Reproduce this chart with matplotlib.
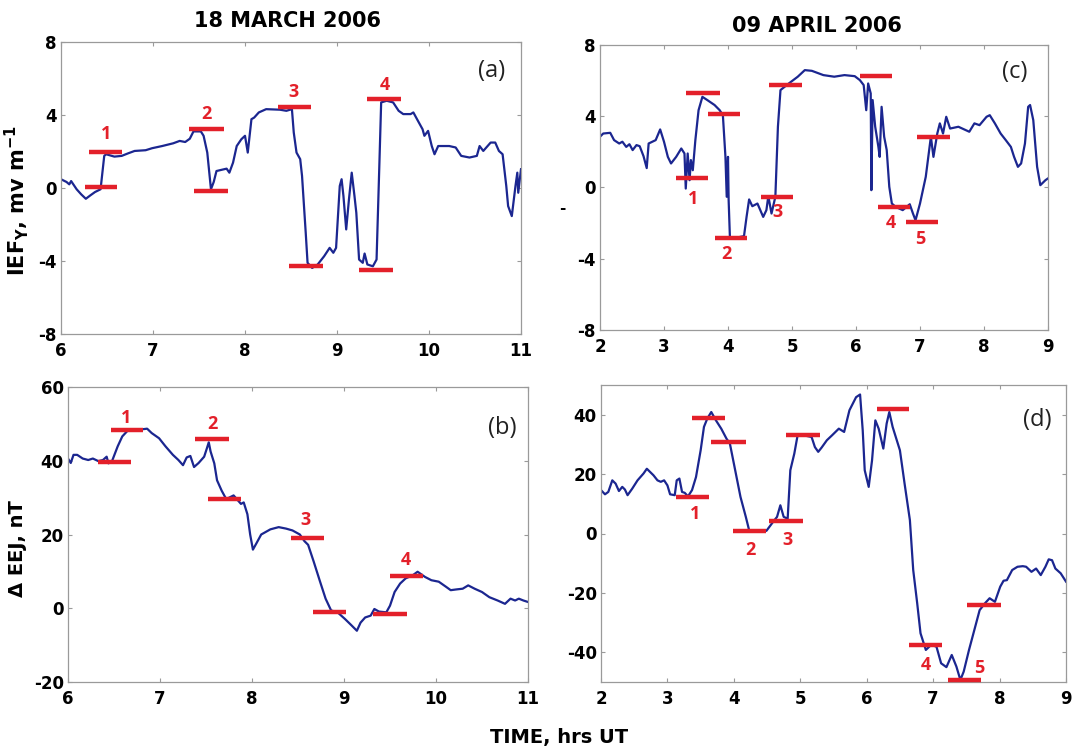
import matplotlib
matplotlib.use("Agg")
import matplotlib.pyplot as plt

plt.rcParams["font.family"] = "DejaVu Sans"
plt.rcParams["axes.unicode_minus"] = False
plt.rcParams["mathtext.fontset"] = "dejavusans"

# ---- 18 March 2006, IEF_Y (mV/m) ----
t_a = [6.0, 6.06, 6.09, 6.11, 6.17, 6.22, 6.27, 6.32, 6.37, 6.43,
       6.47, 6.49, 6.58, 6.66, 6.73, 6.8, 6.92, 6.99, 7.1, 7.22,
       7.29, 7.35, 7.4, 7.44, 7.52, 7.55, 7.59, 7.63, 7.66, 7.69,
       7.74, 7.8, 7.83, 7.87, 7.91, 7.96, 8.0, 8.03, 8.07, 8.1,
       8.15, 8.23, 8.38, 8.45, 8.51, 8.53, 8.56, 8.6, 8.62, 8.66,
       8.68, 8.73, 8.79, 8.86, 8.92, 8.96, 8.99, 9.03, 9.05, 9.07,
       9.1, 9.13, 9.16, 9.19, 9.21, 9.24, 9.28, 9.3, 9.33, 9.39,
       9.43, 9.46, 9.48, 9.54, 9.61, 9.67, 9.72, 9.8, 9.83, 9.87,
       9.93, 9.95, 9.99, 10.03, 10.06, 10.1, 10.22, 10.29, 10.35, 10.44,
       10.52, 10.55, 10.59, 10.67, 10.72, 10.76, 10.8, 10.84, 10.86, 10.9,
       10.94, 10.96, 10.97, 11.0]
v_a = [0.48, 0.33, 0.2, 0.38, -0.07, -0.35, -0.59, -0.4, -0.22, -0.07,
       1.76, 1.85, 1.72, 1.76, 1.9, 2.03, 2.07, 2.18, 2.3, 2.45,
       2.58, 2.52, 2.7, 3.1, 3.1, 2.86, 1.94, -0.07, 0.33, 0.93,
       0.99, 1.06, 0.84, 1.39, 2.3, 2.67, 2.86, 1.94, 3.77, 3.86,
       4.14, 4.32, 4.29, 4.23, 4.32, 3.04, 1.94, 1.58, 0.66, -2.45,
       -4.1, -4.38, -4.19, -3.74, -3.28, -3.55, -3.28, 0.11, 0.48, -0.44,
       -2.27, -0.62, 0.84, -0.44, -1.36, -3.92, -4.1, -3.59, -4.19, -4.29,
       -3.92, 1.2, 4.69, 4.78, 4.69, 4.23, 4.05, 4.05, 4.14, 3.77,
       3.22, 2.86, 3.13, 2.3, 1.85, 2.3, 2.3, 2.22, 1.76, 1.67,
       1.76, 2.3, 2.03, 2.49, 2.49, 2.03, 1.85, 0.11, -0.99, -1.54,
       0.11, 0.84, -0.26, 1.03]

# ---- 18 March 2006, delta EEJ (nT) ----
t_b = [6.0, 6.03, 6.06, 6.1, 6.16, 6.22, 6.27, 6.33, 6.38, 6.42,
       6.44, 6.48, 6.54, 6.59, 6.65, 6.74, 6.83, 6.86, 6.91, 6.99,
       7.06, 7.14, 7.2, 7.25, 7.29, 7.33, 7.37, 7.42, 7.48, 7.51,
       7.53, 7.55, 7.59, 7.62, 7.67, 7.72, 7.8, 7.88, 7.91, 7.95,
       7.98, 8.01, 8.05, 8.1, 8.2, 8.29, 8.37, 8.44, 8.52, 8.57,
       8.61, 8.67, 8.74, 8.8, 8.86, 8.93, 9.01, 9.08, 9.14, 9.18,
       9.23, 9.29, 9.33, 9.38, 9.46, 9.5, 9.55, 9.61, 9.67, 9.75,
       9.8, 9.88, 9.95, 10.03, 10.11, 10.16, 10.22, 10.29, 10.35, 10.42,
       10.5, 10.58, 10.67, 10.75, 10.81, 10.86, 10.9, 10.95, 11.0]
v_b = [40.6, 39.4, 41.6, 41.6, 40.6, 40.2, 40.6, 39.9, 40.2, 41.1,
       39.3, 40.0, 43.9, 46.6, 48.2, 48.4, 48.6, 48.7, 47.5, 46.1,
       43.9, 41.6, 40.2, 38.8, 40.9, 41.3, 38.3, 39.4, 41.1, 43.4,
       45.0, 42.5, 39.3, 34.7, 31.9, 29.6, 30.6, 28.3, 28.7, 25.5,
       20.0, 15.9, 17.7, 20.0, 21.4, 22.0, 21.6, 21.1, 20.0, 18.2,
       17.2, 12.7, 7.2, 2.6, -0.6, -1.1, -2.9, -4.6, -6.1, -3.9,
       -2.5, -2.0, -0.2, -0.9, -1.1, 0.7, 4.4, 6.7, 8.1, 9.0,
       9.9, 8.5, 7.6, 7.2, 5.8, 4.9, 5.1, 5.3, 6.2, 5.3,
       4.4, 3.0, 2.1, 1.2, 2.6, 2.1, 2.6, 2.1, 1.7]

# ---- 09 April 2006, IEF_Y (mV/m) ----
t_c = [2.0, 2.05, 2.16, 2.22, 2.3, 2.35, 2.41, 2.46, 2.51, 2.57,
       2.62, 2.68, 2.73, 2.76, 2.87, 2.94, 3.0, 3.06, 3.11, 3.19,
       3.27, 3.32, 3.34, 3.37, 3.4, 3.42, 3.45, 3.49, 3.54, 3.6,
       3.68, 3.79, 3.87, 3.92, 3.96, 3.98, 4.0, 4.01, 4.03, 4.14,
       4.25, 4.29, 4.33, 4.38, 4.46, 4.55, 4.6, 4.63, 4.68, 4.74,
       4.78, 4.82, 4.95, 5.09, 5.2, 5.31, 5.49, 5.66, 5.82, 5.98,
       6.06, 6.12, 6.16, 6.19, 6.23, 6.24, 6.26, 6.3, 6.35, 6.37,
       6.4, 6.44, 6.48, 6.52, 6.56, 6.62, 6.73, 6.84, 6.89, 6.93,
       7.0, 7.09, 7.17, 7.21, 7.27, 7.31, 7.36, 7.41, 7.47, 7.6,
       7.77, 7.85, 7.93, 8.04, 8.09, 8.17, 8.26, 8.34, 8.42, 8.47,
       8.53, 8.58, 8.64, 8.69, 8.72, 8.77, 8.83, 8.88, 8.96, 9.0]
v_c = [2.85, 3.03, 3.07, 2.66, 2.47, 2.57, 2.28, 2.43, 2.1, 2.38,
       2.32, 1.76, 1.09, 2.47, 2.66, 3.26, 2.57, 1.72, 1.35, 1.72,
       2.19, 1.91, -0.06, 1.91, 0.41, 1.54, 0.97, 2.66, 4.34, 5.09,
       4.9, 4.63, 4.34, 4.06, 1.72, -0.52, 1.72, -0.71, -2.81, -2.81,
       -2.73, -1.65, -0.67, -1.05, -0.9, -1.65, -1.27, -0.49, -1.46, -0.52,
       3.41, 5.47, 5.84, 6.22, 6.59, 6.55, 6.31, 6.22, 6.31, 6.25,
       6.03, 5.75, 4.34, 5.84, 5.28, -0.15, 4.91, 3.41, 2.28, 1.72,
       4.53, 2.85, 2.1, 0.04, -0.9, -1.09, -1.27, -0.94, -1.46, -1.84,
       -0.9, 0.6, 2.85, 1.72, 3.03, 3.6, 3.03, 3.97, 3.31, 3.41,
       3.13, 3.6, 3.5, 3.97, 4.06, 3.6, 3.03, 2.66, 2.28, 1.72,
       1.16, 1.35, 2.47, 4.53, 4.63, 3.78, 1.16, 0.13, 0.41, 0.51]

# ---- 09 April 2006, delta EEJ (nT) ----
t_d = [2.0, 2.06, 2.11, 2.17, 2.22, 2.27, 2.32, 2.36, 2.4, 2.47,
       2.55, 2.64, 2.69, 2.74, 2.79, 2.85, 2.9, 2.95, 3.0, 3.04,
       3.11, 3.14, 3.18, 3.22, 3.26, 3.31, 3.37, 3.43, 3.5, 3.55,
       3.6, 3.66, 3.73, 3.81, 3.89, 3.94, 4.02, 4.1, 4.18, 4.23,
       4.33, 4.49, 4.59, 4.65, 4.7, 4.75, 4.81, 4.85, 4.91, 4.96,
       5.04, 5.17, 5.22, 5.27, 5.32, 5.4, 5.48, 5.58, 5.66, 5.74,
       5.84, 5.9, 5.94, 5.97, 6.03, 6.08, 6.13, 6.18, 6.25, 6.3,
       6.34, 6.39, 6.5, 6.57, 6.65, 6.7, 6.76, 6.81, 6.89, 6.97,
       7.05, 7.12, 7.2, 7.28, 7.35, 7.41, 7.46, 7.54, 7.62, 7.7,
       7.78, 7.85, 7.93, 8.01, 8.06, 8.11, 8.19, 8.27, 8.35, 8.4,
       8.48, 8.55, 8.62, 8.69, 8.74, 8.79, 8.84, 8.92, 9.0]
v_d = [14.6, 13.2, 14.0, 17.9, 16.8, 14.3, 15.7, 14.8, 12.9, 15.1,
       17.9, 20.2, 21.8, 20.7, 19.6, 17.9, 17.4, 17.9, 16.2, 13.2,
       12.9, 17.9, 18.5, 14.0, 13.7, 12.5, 14.6, 19.0, 28.0, 35.9,
       38.7, 40.9, 38.1, 35.3, 31.9, 30.3, 21.3, 12.3, 5.6, 1.1,
       0.6, 0.9, 3.9, 5.6, 9.5, 5.6, 5.0, 21.3, 26.9, 33.1,
       33.1, 32.5, 29.1, 27.5, 28.9, 31.4, 33.1, 35.3, 34.2, 41.5,
       45.9, 46.8, 34.7, 21.3, 15.7, 24.6, 38.1, 35.3, 28.6, 37.0,
       40.9, 35.9, 28.0, 16.8, 4.5, -12.3, -23.5, -33.6, -39.2, -37.5,
       -38.1, -43.7, -45.0, -40.9, -44.8, -49.3, -46.5, -39.2, -32.5, -25.8,
       -23.5, -21.8, -23.0, -17.9, -15.9, -15.7, -12.3, -11.2, -11.0, -11.2,
       -12.9, -11.8, -14.0, -11.2, -8.7, -9.0, -11.8, -13.4, -16.2]

# red level markers: level, start time, end time
lev_a = [2.0, 0.07, 3.26, -0.16, 4.45, -4.25, 4.87, -4.47]
t0_a = [6.3, 6.26, 7.39, 7.45, 8.36, 8.48, 9.33, 9.24]
t1_a = [6.66, 6.61, 7.77, 7.81, 8.72, 8.85, 9.7, 9.61]
lev_b = [39.7, 48.4, 46.0, 29.6, 19.1, -1.1, -1.6, 8.8]
t0_b = [6.33, 6.47, 7.38, 7.52, 8.42, 8.66, 9.32, 9.5]
t1_b = [6.68, 6.82, 7.75, 7.88, 8.78, 9.02, 9.68, 9.86]
lev_c = [0.56, 5.28, 4.1, -2.81, -0.56, 5.73, 6.27, -1.12, -1.93, 2.81]
t0_c = [3.19, 3.34, 3.68, 3.79, 4.52, 4.64, 6.06, 6.35, 6.78, 6.96]
t1_c = [3.69, 3.87, 4.18, 4.29, 5.02, 5.16, 6.57, 6.85, 7.28, 7.47]
lev_d = [12.3, 38.9, 30.8, 0.7, 4.1, 33.1, 41.9, -37.5, -49.3, -24.1]
t0_d = [3.13, 3.37, 3.66, 3.98, 4.53, 4.78, 6.15, 6.63, 7.23, 7.51]
t1_d = [3.63, 3.86, 4.18, 4.48, 5.04, 5.29, 6.64, 7.13, 7.72, 8.02]

# event numbers
num_a = ["1", "2", "3", "4"]
num_c = ["1", "2", "3", "4", "5"]
lt_a = [6.49, 7.58, 8.53, 9.52]
lv_a = [2.95, 4.05, 5.27, 5.64]
lt_b = [6.63, 7.57, 8.58, 9.67]
lv_b = [51.7, 50.1, 23.9, 13.1]
lt_c = [3.45, 3.98, 4.78, 6.55, 7.01]
lv_c = [-0.67, -3.71, -1.37, -1.99, -2.87]
lt_d = [3.41, 4.25, 4.81, 6.89, 7.7]
lv_d = [6.5, -5.6, -2.2, -44.3, -45.4]

W, H = 1072, 747
BLUE = "#1b2690"
RED = "#e3202a"
GREY = "#9a9a9a"

fig = plt.figure(figsize=(W / 100, H / 100), dpi=100)


def add_ax(left, right, top, bottom):
    return fig.add_axes([left / W, 1 - bottom / H, (right - left) / W, (bottom - top) / H])


def style(ax, xlim, ylim, yticks, tag, tag_pos):
    ax.set_xlim(*xlim)
    ax.set_ylim(*ylim)
    ax.set_xticks(range(xlim[0], xlim[1] + 1))
    ax.set_yticks(yticks)
    for s in ax.spines.values():
        s.set_color(GREY)
        s.set_linewidth(0.9)
    ax.tick_params(direction="in", top=True, right=True, length=3, width=0.8,
                   color=GREY, labelsize=12)
    ax.tick_params(axis="x", pad=6)
    ax.tick_params(axis="y", pad=3)
    for lab in ax.get_xticklabels() + ax.get_yticklabels():
        lab.set_fontweight("bold")
    ax.text(tag_pos[0], tag_pos[1], tag, transform=ax.transAxes, fontsize=17,
            family="Open Sans", ha="center", va="center", color="#222222")


def draw(ax, t, v, lev, t0, t1, nums, lt, lv):
    ax.plot(t, v, color=BLUE, lw=1.6)
    ax.hlines(lev, t0, t1, colors=RED, lw=3.2, clip_on=False, zorder=3)
    for n, x, y in zip(nums, lt, lv):
        ax.text(x, y, n, color=RED, fontsize=13, fontweight="bold",
                family="Open Sans", ha="center", va="center")


ax_a = add_ax(61, 521, 42, 334)
draw(ax_a, t_a, v_a, lev_a, t0_a, t1_a, num_a, lt_a, lv_a)
style(ax_a, (6, 11), (-8, 8), [-8, -4, 0, 4, 8], "(a)", (0.936, 0.90))

ax_b = add_ax(68, 528, 387, 682)
draw(ax_b, t_b, v_b, lev_b, t0_b, t1_b, num_a, lt_b, lv_b)
style(ax_b, (6, 11), (-20, 60), [-20, 0, 20, 40, 60], "(b)", (0.945, 0.862))

ax_c = add_ax(600, 1048, 45, 330)
draw(ax_c, t_c, v_c, lev_c, t0_c, t1_c, num_c, lt_c, lv_c)
style(ax_c, (2, 9), (-8, 8), [-8, -4, 0, 4, 8], "(c)", (0.925, 0.905))

ax_d = add_ax(601, 1066, 385, 682)
draw(ax_d, t_d, v_d, lev_d, t0_d, t1_d, num_c, lt_d, lv_d)
style(ax_d, (2, 9), (-50, 50), [-40, -20, 0, 20, 40], "(d)", (0.938, 0.881))

fig.text(287 / W, 1 - 21 / H, "18 MARCH 2006", ha="center", va="center",
         fontsize=15, fontweight="bold")
fig.text(817 / W, 1 - 26 / H, "09 APRIL 2006", ha="center", va="center",
         fontsize=15, fontweight="bold")
fig.text(17 / W, 1 - 201 / H, r"IEF$_{\mathbf{Y}}$, mv m$^{\mathbf{-1}}$",
         rotation=90, ha="center", va="center", fontsize=15, fontweight="bold")
fig.text(18 / W, 1 - 549 / H, "\u0394 EEJ, nT", rotation=90, ha="center",
         va="center", fontsize=14, fontweight="bold")
fig.text(559 / W, 1 - 737 / H, "TIME, hrs UT", ha="center", va="center",
         fontsize=14, fontweight="bold")
fig.text(562 / W, 1 - 208 / H, "-", ha="center", va="center", fontsize=11,
         fontweight="bold")

fig.savefig("out.png", dpi=100)
